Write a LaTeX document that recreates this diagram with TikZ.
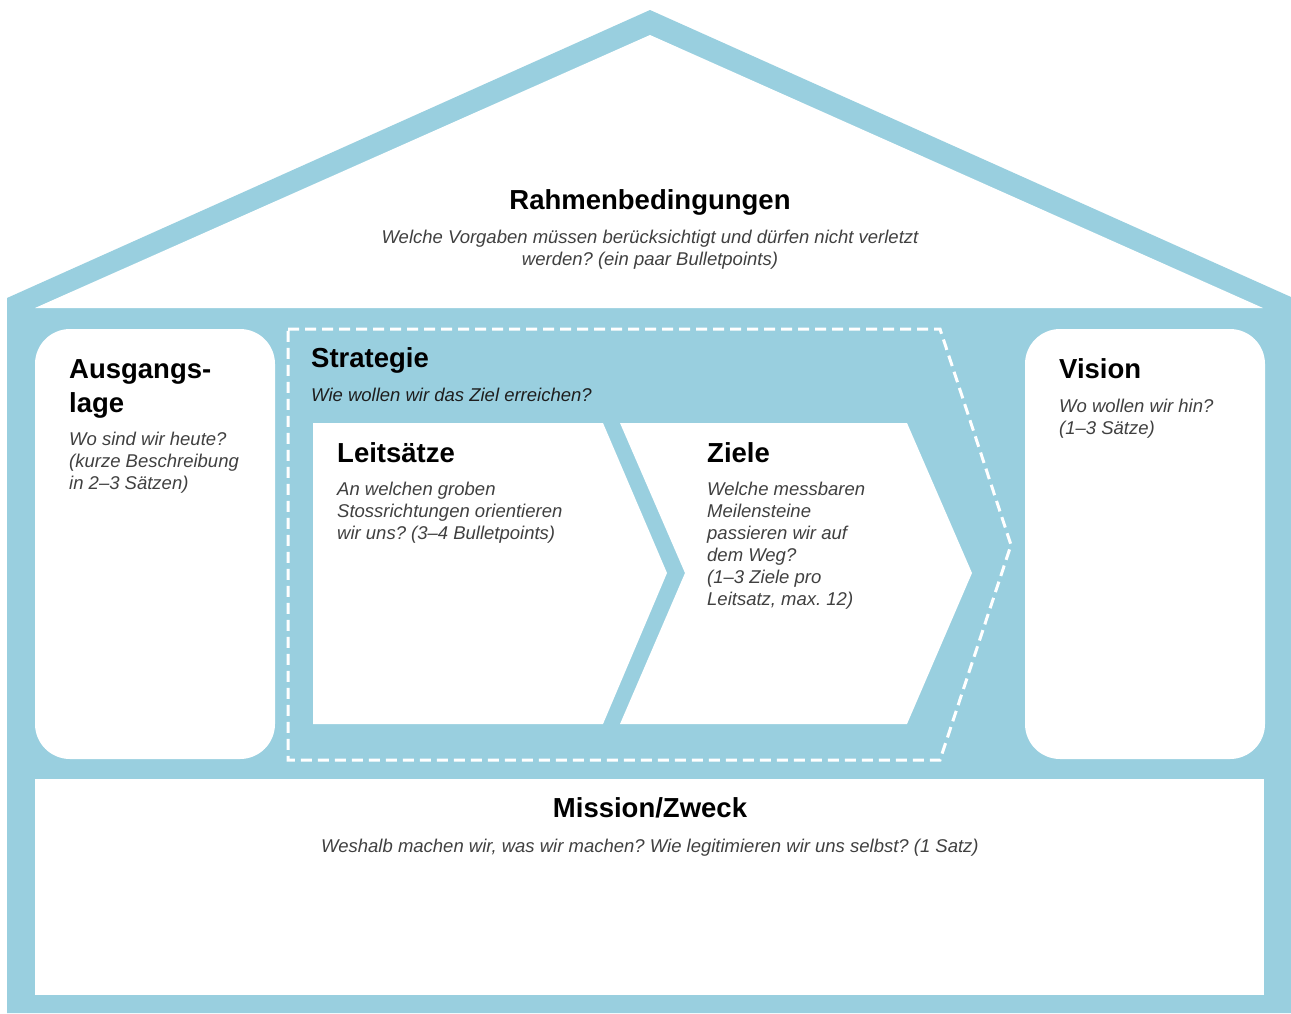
\documentclass[tikz,border=0pt]{standalone}
\usepackage{fontspec}
\setmainfont{Liberation Sans}
\frenchspacing
\definecolor{hblue}{HTML}{99CFDF}
\definecolor{subgray}{HTML}{404040}
\definecolor{subdark}{HTML}{1E1E1E}
\begin{document}
\begin{tikzpicture}[x=1pt,y=-1pt,
  titletext/.style={font=\fontsize{27.5}{34}\selectfont\bfseries, text=black, anchor=base west, inner sep=0pt, align=left},
  subtext/.style={font=\fontsize{18.5}{22}\selectfont\itshape, text=subgray, anchor=base west, inner sep=0pt, align=left},
  whitebox/.style={fill=white, draw=none},
  dashline/.style={draw=white, line width=3pt, dash pattern=on 11pt off 6pt}]
\useasboundingbox (0,0) rectangle (1291,1013);
\fill[white] (0,0) rectangle (1291,1013);
% house blue body and roof
\fill[hblue] (650,10) -- (1291,297) -- (1291,1013) -- (7,1013) -- (7,298) -- cycle;
% roof interior
\fill[white] (650,35) -- (1263,308) -- (35,308) -- cycle;
% side boxes
\fill[whitebox, rounded corners=35pt] (35,329) rectangle (275,759);
\fill[whitebox, rounded corners=35pt] (1025,329) rectangle (1265,759);
% mission box
\fill[whitebox] (35,779) rectangle (1264,995);
% strategy dashed outline
\draw[dashline] (288,329) -- (940,329) -- (1011,545) -- (940,760) -- (288,760) -- cycle;
% chevrons
\fill[whitebox] (313,423) -- (603,423) -- (667,573) -- (603,724) -- (313,724) -- cycle;
\fill[whitebox] (620,423) -- (907,423) -- (972,573) -- (907,724) -- (620,724) -- (685,573) -- cycle;
% texts (base anchor of a multi-line node = baseline of its last line)
\node[titletext, anchor=base] (rahmen) at (650,209) {Rahmenbedingungen};
\node[subtext, anchor=base, align=center] (rahmensub) at (650,265) {Welche Vorgaben müssen berücksichtigt und dürfen nicht verletzt\\werden? (ein paar Bulletpoints)};
\node[titletext] (ausg) at (69,412) {Ausgangs-\\lage};
\node[subtext] (ausgsub) at (69,489) {Wo sind wir heute?\\(kurze Beschreibung\\in 2–3 Sätzen)};
\node[titletext] (strat) at (311,367) {Strategie};
\node[subtext, text=subdark] (stratsub) at (311,401) {Wie wollen wir das Ziel erreichen?};
\node[titletext] (leit) at (337,462) {Leitsätze};
\node[subtext] (leitsub) at (337,539) {An welchen groben\\Stossrichtungen orientieren\\wir uns? (3–4 Bulletpoints)};
\node[titletext] (ziele) at (707,462) {Ziele};
\node[subtext] (zielesub) at (707,605) {Welche messbaren\\Meilensteine\\passieren wir auf\\dem Weg?\\(1–3 Ziele pro\\Leitsatz, max. 12)};
\node[titletext] (vision) at (1059,378) {Vision};
\node[subtext] (visionsub) at (1059,434) {Wo wollen wir hin?\\(1–3 Sätze)};
\node[titletext, anchor=base] (mission) at (650,817) {Mission/Zweck};
\node[subtext, anchor=base] (missionsub) at (650,852) {Weshalb machen wir, was wir machen? Wie legitimieren wir uns selbst? (1 Satz)};
\end{tikzpicture}
\end{document}
